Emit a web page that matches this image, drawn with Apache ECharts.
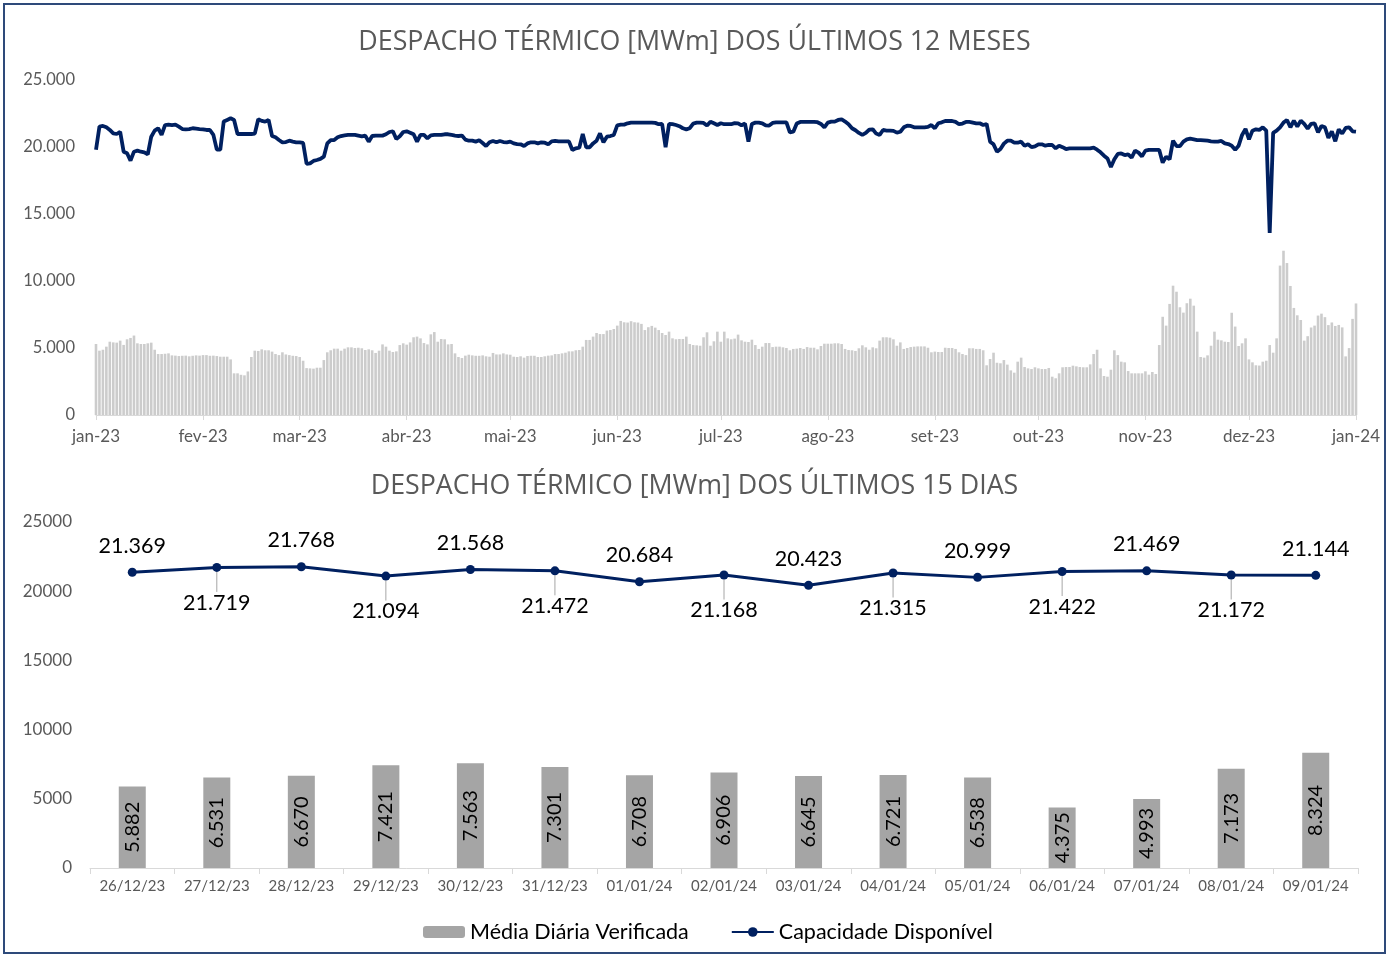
<!DOCTYPE html>
<html><head><meta charset="utf-8">
<script src="https://cdn.jsdelivr.net/npm/echarts@6/dist/echarts.min.js"></script>
<style>
html,body{margin:0;padding:0;background:#fff;}
#wrap{position:relative;width:1389px;height:957px;}
#chart{position:absolute;left:0;top:0;width:1389px;height:957px;}
#frame{position:absolute;left:3px;top:3px;width:1379px;height:947px;border:2px solid #2E4A7A;pointer-events:none;}
</style>
</head><body>
<div id="wrap"><div id="chart"></div><div id="frame"></div></div>
<script>
// ---------- Top chart: last 12 months (daily) ----------
const monthTickLabels = ['jan-23','fev-23','mar-23','abr-23','mai-23','jun-23','jul-23','ago-23','set-23','out-23','nov-23','dez-23','jan-24'];
const monthTickDays = [0,31,59,90,120,151,181,212,243,273,304,334,365];

// Média diária verificada (MWm), by monthly period
const verif_jan23 = [5300,4800,4870,5100,5470,5420,5400,5550,5230,5650,5750,5930,5350,5300,5300,5350,5400,4870,4550,4550,4570,4600,4450,4430,4400,4420,4430,4380,4420,4450,4430];
const verif_fev23 = [4470,4470,4420,4430,4400,4350,4350,4350,4150,3110,3110,3000,2960,3250,4330,4800,4780,4900,4830,4830,4730,4550,4470,4680,4520,4470,4420,4400];
const verif_mar23 = [4330,4050,3500,3480,3460,3530,3530,4100,4680,4830,4950,4950,4800,4950,5050,5050,5000,5020,4980,4850,4900,4830,4630,4800,5270,5100,4800,4700,4750,5220,5350];
const verif_abr23 = [5250,5420,5800,5850,5720,5370,5270,6020,6190,5470,5670,5650,5270,5300,4600,4330,4250,4430,4500,4450,4420,4420,4450,4380,4350,4630,4520,4520,4600,4520];
const verif_mai23 = [4500,4350,4330,4380,4280,4400,4420,4420,4330,4330,4380,4430,4450,4550,4550,4600,4650,4750,4750,4830,4850,5100,5600,5600,5850,6120,6040,6040,6300,6340,6420];
const verif_jun23 = [6670,7020,6920,6900,7000,6920,6900,6800,6340,6550,6650,6520,6340,6120,5970,6220,5720,5650,5670,5670,5850,5300,5220,5200,5170,5800,6170,5170,5500,6220];
const verif_jul23 = [5470,6220,5720,5650,5700,6000,5570,5470,5450,5620,5220,4930,5100,5370,5370,5070,5100,5100,5050,5000,4830,4930,4950,5000,4930,5070,5020,5020,4900,5150,5320];
const verif_ago23 = [5320,5320,5350,5350,5300,4930,4850,4830,4780,4980,5200,5050,4870,5050,4980,5550,5800,5800,5770,5650,5170,5420,4930,5000,5070,5100,5120,5120,5120,5020,4680];
const verif_set23 = [4730,4700,4700,5020,5000,5000,4930,4680,4550,4470,4980,4980,4930,4930,4830,3710,4180,4650,3900,3860,4100,3760,3330,3160,3980,4280,3580,3480,3430,3560];
const verif_out23 = [3480,3430,3430,3510,2860,2740,3110,3560,3580,3580,3680,3630,3580,3560,3560,3780,4550,4870,3480,2910,2860,3380,4830,4470,3980,3930,3280,3110,3110,3110,3110];
const verif_nov23 = [3260,3010,3210,3060,5220,7330,6670,8290,9650,9200,8040,7640,8340,8680,8160,6220,4330,4280,4450,5170,6220,5620,5570,5470,5450,7630,6600,5150,5350,5720];
const verif_dez23 = [4150,3930,3710,3690,3980,4050,5220,4650,5720,11150,12260,11340,9630,7990,7440,7090,5550];

// Capacidade disponível (MWm), by monthly period
const cap_jan23 = [19800,21520,21570,21470,21270,21020,20970,21140,19650,19530,18980,19650,19730,19650,19600,19450,20770,21220,21400,20900,21640,21670,21640,21670,21520,21340,21320,21340,21400,21370,21340];
const cap_fev23 = [21320,21270,21270,20900,19800,19800,21900,22020,22140,22020,20970,20970,20970,20970,20970,21000,22070,21950,21890,22020,20820,20720,20520,20350,20370,20470,20400,20350];
const cap_mar23 = [20350,20300,18750,18780,18960,19030,19110,19280,20270,20520,20520,20720,20820,20870,20900,20900,20900,20850,20800,20850,20400,20820,20850,20850,20850,20950,21120,21170,20600,20800,21120];
const cap_abr23 = [21170,21070,20950,20400,20900,20900,20650,20870,20900,20900,20900,20950,20950,20900,20850,20820,20850,20550,20470,20470,20400,20500,20300,20070,20350,20450,20350,20450,20370,20350];
const cap_mai23 = [20400,20270,20220,20200,20070,20270,20350,20350,20270,20350,20320,20200,20420,20450,20420,20420,20420,20420,19780,19900,19950,20970,19980,19980,20270,20470,21020,20350,20770,20820,20900];
const cap_jun23 = [21620,21670,21670,21770,21820,21820,21820,21820,21820,21820,21820,21800,21700,21720,19980,21720,21700,21640,21550,21400,21320,21400,21750,21820,21820,21800,21600,21890,21770,21640];
const cap_jul23 = [21770,21700,21700,21700,21780,21770,21620,21750,20400,21720,21820,21820,21770,21610,21600,21800,21840,21840,21840,21840,21100,21140,21750,21870,21870,21870,21870,21870,21850,21720,21470];
const cap_ago23 = [21820,21890,21890,22020,22070,21900,21700,21400,21250,21050,20900,21050,21300,21320,21000,20900,21270,21220,21220,21200,21070,21140,21470,21590,21570,21470,21470,21470,21470,21500,21640];
const cap_set23 = [21400,21770,21840,21940,21940,21940,21870,21700,21750,21870,21870,21820,21770,21770,21640,21720,20400,20200,19650,19850,20250,20470,20470,20320,20320,20400,20100,20200,19990,20050];
const cap_out23 = [20200,20200,20100,20150,20150,19900,20100,19990,19850,19900,19900,19900,19900,19900,19900,19900,19950,19800,19600,19350,19150,18500,19080,19480,19520,19400,19450,19200,19730,19580,19300];
const cap_nov23 = [19730,19780,19780,19780,19780,18830,19280,19080,20470,20070,20070,20400,20570,20620,20570,20520,20520,20500,20470,20420,20400,20400,20450,20270,20220,20100,19800,20100,20900,21350];
const cap_dez23 = [20570,21220,21320,21270,21470,21220,13580,21050,21220,21470,21820,22020,21470,21970,21520,21970,21720];

// ---------- Bottom chart: last 15 days ----------
const days15 = ['26/12/23','27/12/23','28/12/23','29/12/23','30/12/23','31/12/23','01/01/24','02/01/24','03/01/24','04/01/24','05/01/24','06/01/24','07/01/24','08/01/24','09/01/24'];
const verif15 = [5882,6531,6670,7421,7563,7301,6708,6906,6645,6721,6538,4375,4993,7173,8324];
const cap15 = [21369,21719,21768,21094,21568,21472,20684,21168,20423,21315,20999,21422,21469,21172,21144];

const seriesNames = ['Média Diária Verificada','Capacidade Disponível'];

// ---------- build ----------
const verifYear = [].concat(verif_jan23,verif_fev23,verif_mar23,verif_abr23,verif_mai23,verif_jun23,verif_jul23,verif_ago23,verif_set23,verif_out23,verif_nov23,verif_dez23,verif15);
const capYear = [].concat(cap_jan23,cap_fev23,cap_mar23,cap_abr23,cap_mai23,cap_jun23,cap_jul23,cap_ago23,cap_set23,cap_out23,cap_nov23,cap_dez23,cap15);
const fmt = v => String(v).replace(/\B(?=(\d{3})+(?!\d))/g, '.');
const FONT = 'Lato';
const TITLE_FONT = 'Open Sans';
const GREY = '#595959';

const capItems = cap15.map((v, i) => ({value: v, labelLine: {show: i % 2 === 1}}));

const chart = echarts.init(document.getElementById('chart'));
chart.setOption({
  animation: false,
  textStyle: {fontFamily: FONT},
  title: [
    {text: 'DESPACHO TÉRMICO [MWm] DOS ÚLTIMOS 12 MESES', left: 'center', top: 24,
     textStyle: {fontFamily: TITLE_FONT, fontSize: 26.8, fontWeight: 'normal', color: GREY}},
    {text: 'DESPACHO TÉRMICO [MWm] DOS ÚLTIMOS 15 DIAS', left: 'center', top: 468,
     textStyle: {fontFamily: TITLE_FONT, fontSize: 26.8, fontWeight: 'normal', color: GREY}}
  ],
  legend: {
    data: seriesNames, bottom: 9, left: 418, itemWidth: 42, itemHeight: 12, itemGap: 42,
    textStyle: {fontFamily: FONT, fontSize: 21.5, color: '#000'}
  },
  grid: [
    {left: 96, right: 33, top: 80, height: 335},
    {left: 90, right: 31, top: 522, height: 346}
  ],
  xAxis: [
    {gridIndex: 0, type: 'value', min: 0, max: 365,
     axisLine: {show: true, lineStyle: {color: '#D9D9D9', width: 1}},
     axisTick: {show: true, length: 5, lineStyle: {color: '#D9D9D9'}, customValues: monthTickDays},
     axisLabel: {customValues: monthTickDays, fontSize: 17, color: GREY, margin: 13,
       formatter: v => monthTickLabels[monthTickDays.indexOf(v)] || ''},
     splitLine: {show: false}},
    {gridIndex: 1, type: 'category', data: days15, boundaryGap: true,
     axisLine: {lineStyle: {color: '#D9D9D9', width: 1}},
     axisTick: {show: true, length: 6, lineStyle: {color: '#D9D9D9'}},
     axisLabel: {fontSize: 15, color: GREY, margin: 11, interval: 0, hideOverlap: false}}
  ],
  yAxis: [
    {gridIndex: 0, type: 'value', min: 0, max: 25000, interval: 5000,
     axisLine: {show: false}, axisTick: {show: false}, splitLine: {show: false},
     axisLabel: {fontSize: 16.5, color: GREY, margin: 21, formatter: v => fmt(v)}},
    {gridIndex: 1, type: 'value', min: 0, max: 25000, interval: 5000,
     axisLine: {show: false}, axisTick: {show: false}, splitLine: {show: false},
     axisLabel: {fontSize: 17, color: GREY, margin: 18, formatter: v => String(v)}}
  ],
  series: [
    {name: 'verif12', type: 'bar', xAxisIndex: 0, yAxisIndex: 0, barWidth: 2.6,
     itemStyle: {color: '#CCCCCC'}, data: verifYear.map((v, i) => [i, v]), z: 2},
    {name: 'cap12', type: 'line', xAxisIndex: 0, yAxisIndex: 0, showSymbol: false,
     lineStyle: {color: '#002060', width: 3.8}, itemStyle: {color: '#002060'},
     data: capYear.map((v, i) => [i, v]), z: 3},
    {name: seriesNames[0], type: 'bar', xAxisIndex: 1, yAxisIndex: 1, barWidth: 27,
     itemStyle: {color: '#A5A5A5'}, data: verif15,
     label: {show: true, position: 'inside', rotate: 90, fontSize: 20, color: '#000',
       fontFamily: FONT, formatter: p => fmt(p.value)}},
    {name: seriesNames[1], type: 'line', xAxisIndex: 1, yAxisIndex: 1, symbol: 'circle', symbolSize: 9,
     lineStyle: {color: '#002060', width: 3}, itemStyle: {color: '#002060'}, data: capItems,
     label: {show: true, position: 'top', distance: 11, fontSize: 21.5, color: '#000',
       fontFamily: FONT, formatter: p => fmt(p.value)},
     labelLayout: p => (p.dataIndex % 2 ? {dy: 62} : {}),
     labelLine: {show: true, lineStyle: {color: '#A6A6A6', width: 1}}}
  ]
});
</script>
</body></html>
